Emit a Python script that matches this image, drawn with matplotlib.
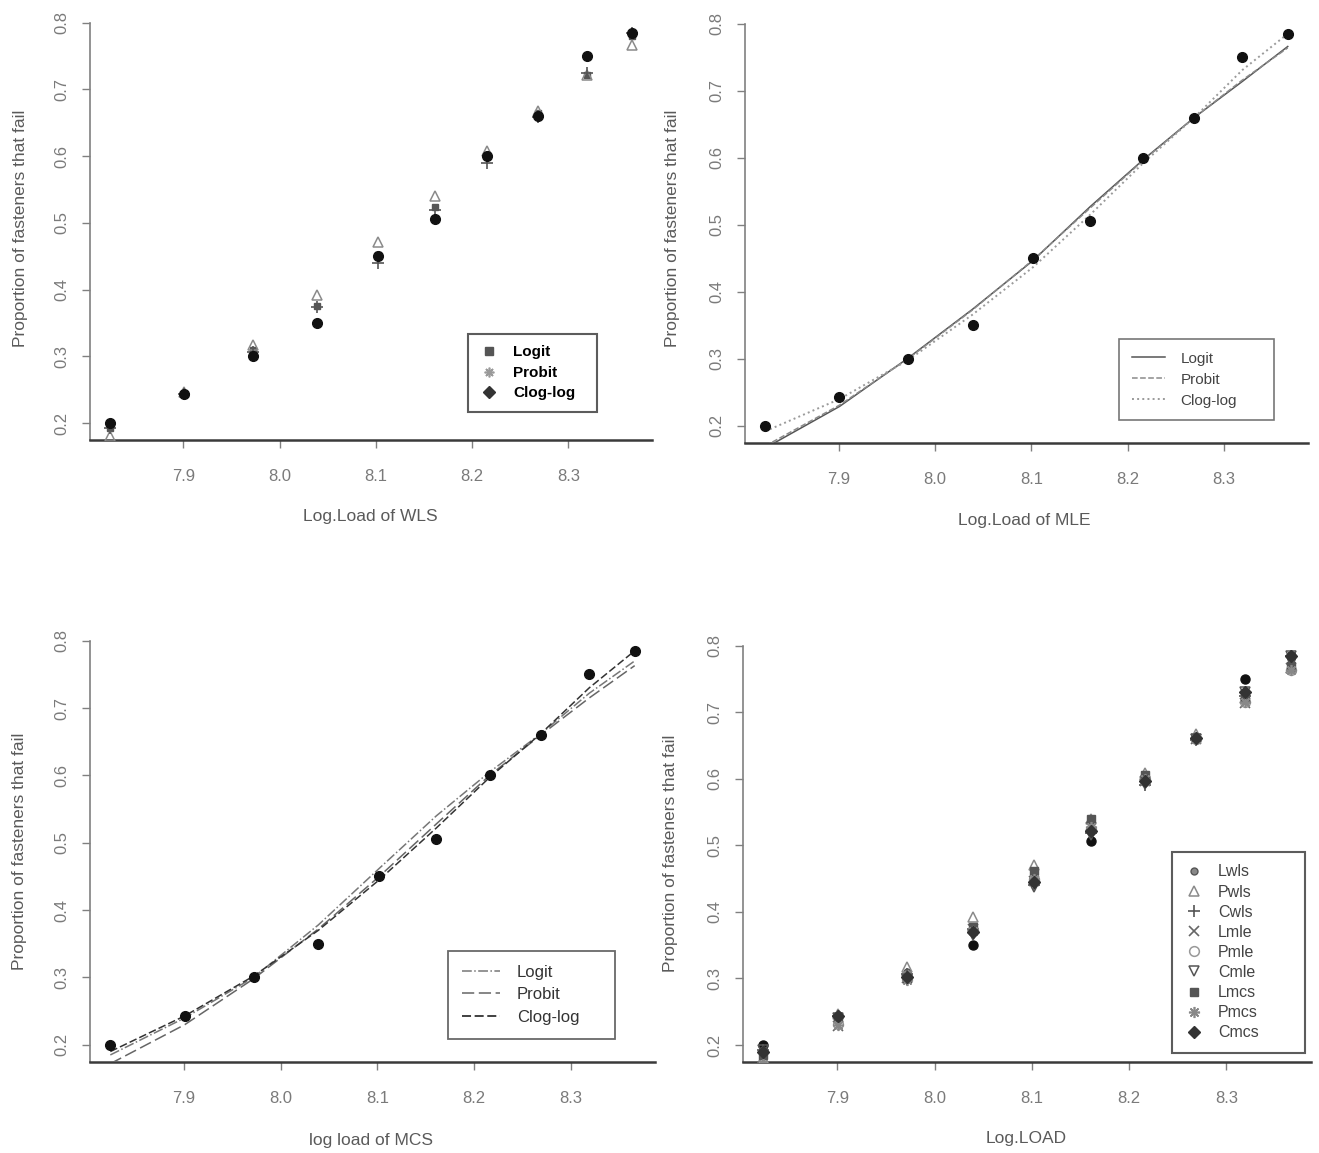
import matplotlib
matplotlib.use("Agg")
import matplotlib.pyplot as plt
from matplotlib.lines import Line2D

plt.rcParams['font.family'] = ['Liberation Sans', 'DejaVu Sans']

# ---------------- data ----------------
log_load = [7.824, 7.901, 7.972, 8.039, 8.102, 8.161, 8.216, 8.269, 8.319, 8.366]
observed = [0.200, 0.243, 0.300, 0.350, 0.450, 0.506, 0.600, 0.660, 0.750, 0.785]

# WLS fitted proportions
logit_wls = [0.192, 0.244, 0.309, 0.376, 0.452, 0.523, 0.602, 0.664, 0.722, 0.780]
probit_wls = [0.180, 0.246, 0.317, 0.392, 0.471, 0.540, 0.608, 0.667, 0.721, 0.767]
cloglog_wls = [0.192, 0.244, 0.306, 0.374, 0.440, 0.519, 0.590, 0.659, 0.724, 0.785]

# MLE fitted proportions
logit_mle = [0.167, 0.229, 0.301, 0.374, 0.447, 0.527, 0.597, 0.660, 0.714, 0.766]
probit_mle = [0.170, 0.231, 0.300, 0.373, 0.448, 0.525, 0.596, 0.660, 0.716, 0.764]
cloglog_mle = [0.192, 0.240, 0.298, 0.366, 0.437, 0.515, 0.592, 0.660, 0.731, 0.785]

# MCS fitted proportions
logit_mcs = [0.185, 0.240, 0.300, 0.378, 0.462, 0.540, 0.605, 0.662, 0.722, 0.770]
probit_mcs = [0.172, 0.230, 0.298, 0.372, 0.450, 0.528, 0.600, 0.660, 0.715, 0.763]
cloglog_mcs = [0.190, 0.243, 0.302, 0.370, 0.445, 0.522, 0.597, 0.662, 0.730, 0.785]

x_ticks = [7.9, 8.0, 8.1, 8.2, 8.3]
y_ticks = [0.2, 0.3, 0.4, 0.5, 0.6, 0.7, 0.8]
ylabel = "Proportion of fasteners that fail"
xlabels = ["Log.Load of WLS", "Log.Load of MLE", "log load of MCS", "Log.LOAD"]
legend3 = ["Logit", "Probit", "Clog-log"]
legend9 = ["Lwls", "Pwls", "Cwls", "Lmle", "Pmle", "Cmle", "Lmcs", "Pmcs", "Cmcs"]

XLIM = (7.803, 8.387)
YLIM = (0.1745, 0.8085)

W, H = 1319, 1153
fig = plt.figure(figsize=(W / 100, H / 100), dpi=100)
fig.patch.set_facecolor('white')


def px_axes(l, t, r, b):
    return fig.add_axes([l / W, 1 - b / H, (r - l) / W, (b - t) / H])


def px_box(l, t, r, b):
    return (l / W, 1 - b / H, (r - l) / W, (b - t) / H)


ax1 = px_axes(90, 17, 652, 440)
ax2 = px_axes(745, 18, 1308, 443)
ax3 = px_axes(90, 635, 655, 1062)
ax4 = px_axes(743, 640, 1311, 1062)

TXT = '#5a5a5a'


def style(ax):
    ax.set_xlim(*XLIM)
    ax.set_ylim(*YLIM)
    for s in ['top', 'right']:
        ax.spines[s].set_visible(False)
    ax.spines['left'].set_color('#808080')
    ax.spines['left'].set_linewidth(1.2)
    ax.spines['left'].set_bounds(YLIM[0], 0.8)
    ax.spines['bottom'].set_color('#3a3a3a')
    ax.spines['bottom'].set_linewidth(1.8)
    ax.set_xticks(x_ticks)
    ax.set_xticklabels([f"{v:.1f}" for v in x_ticks])
    ax.set_yticks(y_ticks)
    ax.set_yticklabels([f"{v:.1f}" for v in y_ticks], rotation=90, va='center')
    ax.tick_params(axis='x', length=6, width=1, color='#808080', pad=15,
                   labelsize=12, labelcolor='#7a7a7a')
    ax.tick_params(axis='y', length=6, width=1, color='#808080', pad=9,
                   labelsize=12, labelcolor='#7a7a7a')
    ax.set_facecolor('none')


for ax in (ax1, ax2, ax3, ax4):
    style(ax)

# axis titles placed like the reference
fig.text(21 / W, 1 - 228 / H, ylabel, rotation=90, ha='center', va='center', fontsize=12.5, color=TXT)
fig.text(672 / W, 1 - 228 / H, ylabel, rotation=90, ha='center', va='center', fontsize=12.5, color=TXT)
fig.text(20 / W, 1 - 851 / H, ylabel, rotation=90, ha='center', va='center', fontsize=12.5, color=TXT)
fig.text(671 / W, 1 - 853 / H, ylabel, rotation=90, ha='center', va='center', fontsize=12.5, color=TXT)
fig.text(370 / W, 1 - 517 / H, xlabels[0], ha='center', va='center', fontsize=12.5, color=TXT)
fig.text(1024 / W, 1 - 521 / H, xlabels[1], ha='center', va='center', fontsize=12.5, color=TXT)
fig.text(371 / W, 1 - 1140 / H, xlabels[2], ha='center', va='center', fontsize=12.5, color=TXT)
fig.text(1026 / W, 1 - 1138 / H, xlabels[3], ha='center', va='center', fontsize=12.5, color=TXT)

OBS = dict(marker='o', ls='none', color='#111111', ms=7, zorder=6)


def make_legend(ax, handles, labels, box, **kw):
    leg = ax.legend(handles, labels, loc='upper left', bbox_to_anchor=px_box(*box),
                    bbox_transform=fig.transFigure, mode='expand', frameon=True,
                    fancybox=False, borderaxespad=0, **kw)
    return leg


# ---------------- panel 1: WLS ----------------
ax1.plot(log_load, logit_wls, marker='s', ls='none', color='#555555', ms=5, zorder=3)
ax1.plot(log_load, probit_wls, marker='^', ls='none', mfc='none', mec='#8a8a8a', mew=1.1, ms=7, zorder=4)
ax1.plot(log_load, cloglog_wls, marker='+', ls='none', color='#555555', mew=1.2, ms=9, zorder=5)
ax1.plot(log_load, observed, **OBS)
h1 = [Line2D([], [], marker='s', ls='none', color='#555555', ms=6),
      Line2D([], [], marker=(8, 2, 0), ls='none', color='#9a9a9a', mew=1.2, ms=7),
      Line2D([], [], marker='D', ls='none', color='#333333', ms=6)]
leg1 = make_legend(ax1, h1, legend3, (468, 334, 597, 412),
                   prop={'size': 11, 'weight': 'bold'}, handlelength=1.2, handletextpad=1.0,
                   borderpad=0.75, labelspacing=0.42)
leg1.get_frame().set_edgecolor('#333333')
leg1.get_frame().set_linewidth(1.5)

# ---------------- panel 2: MLE ----------------
ax2.plot(log_load, logit_mle, ls='-', color='#555555', lw=1.1, zorder=3)
ax2.plot(log_load, probit_mle, ls='--', color='#8a8a8a', lw=1.1, zorder=3)
ax2.plot(log_load, cloglog_mle, ls=':', color='#9a9a9a', lw=1.4, zorder=3)
ax2.plot(log_load, observed, **OBS)
h2 = [Line2D([], [], ls='-', color='#555555', lw=1.1),
      Line2D([], [], ls='--', color='#8a8a8a', lw=1.1),
      Line2D([], [], ls=':', color='#9a9a9a', lw=1.4)]
leg2 = make_legend(ax2, h2, legend3, (1119, 339, 1274, 421),
                   prop={'size': 11}, handlelength=2.2, handletextpad=1.0,
                   borderpad=0.84, labelspacing=0.45)
leg2.get_frame().set_edgecolor('#555555')
leg2.get_frame().set_linewidth(1.2)
for t in leg2.get_texts():
    t.set_color('#444444')

# ---------------- panel 3: MCS ----------------
ax3.plot(log_load, logit_mcs, ls='-.', color='#777777', lw=1.1, zorder=3)
ax3.plot(log_load, probit_mcs, ls=(0, (8, 3)), color='#666666', lw=1.1, zorder=3)
ax3.plot(log_load, cloglog_mcs, ls=(0, (5, 2)), color='#333333', lw=1.1, zorder=3)
ax3.plot(log_load, observed, **OBS)
h3 = [Line2D([], [], ls='-.', color='#777777', lw=1.1),
      Line2D([], [], ls=(0, (8, 3)), color='#666666', lw=1.1),
      Line2D([], [], ls=(0, (5, 2)), color='#333333', lw=1.3)]
leg3 = make_legend(ax3, h3, legend3, (448, 951, 615, 1041),
                   prop={'size': 12}, handlelength=2.3, handletextpad=1.0,
                   borderpad=0.83, labelspacing=0.45)
leg3.get_frame().set_edgecolor('#444444')
leg3.get_frame().set_linewidth(1.3)
for t in leg3.get_texts():
    t.set_color('#333333')

# ---------------- panel 4: all ----------------
series4 = [logit_wls, probit_wls, cloglog_wls, logit_mle, probit_mle, cloglog_mle,
           logit_mcs, probit_mcs, cloglog_mcs]
styles4 = [dict(marker='o', mfc='#888888', mec='#555555', ms=5),
           dict(marker='^', mfc='none', mec='#8a8a8a', ms=7, mew=1.1),
           dict(marker='+', color='#555555', ms=9, mew=1.2),
           dict(marker='x', color='#666666', ms=7, mew=1.2),
           dict(marker='o', mfc='none', mec='#999999', ms=7, mew=1.1),
           dict(marker='v', mfc='none', mec='#555555', ms=7, mew=1.1),
           dict(marker='s', color='#555555', ms=6),
           dict(marker=(8, 2, 0), color='#888888', ms=8, mew=1.2),
           dict(marker='D', color='#333333', ms=6)]
hand4 = []
for vals, st in zip(series4, styles4):
    ax4.plot(log_load, vals, ls='none', zorder=4, **st)
    hand4.append(Line2D([], [], ls='none', **st))
ax4.plot(log_load, observed, marker='o', ls='none', color='#111111', ms=6.5, zorder=3)
leg4 = make_legend(ax4, hand4, legend9, (1172, 852, 1305, 1051),
                   prop={'size': 11.5}, handlelength=1.2, handletextpad=0.9,
                   borderpad=0.78, labelspacing=0.32)
leg4.get_frame().set_edgecolor('#333333')
leg4.get_frame().set_linewidth(1.5)
for t in leg4.get_texts():
    t.set_color('#444444')

fig.savefig("out.png", dpi=100, facecolor='white')
